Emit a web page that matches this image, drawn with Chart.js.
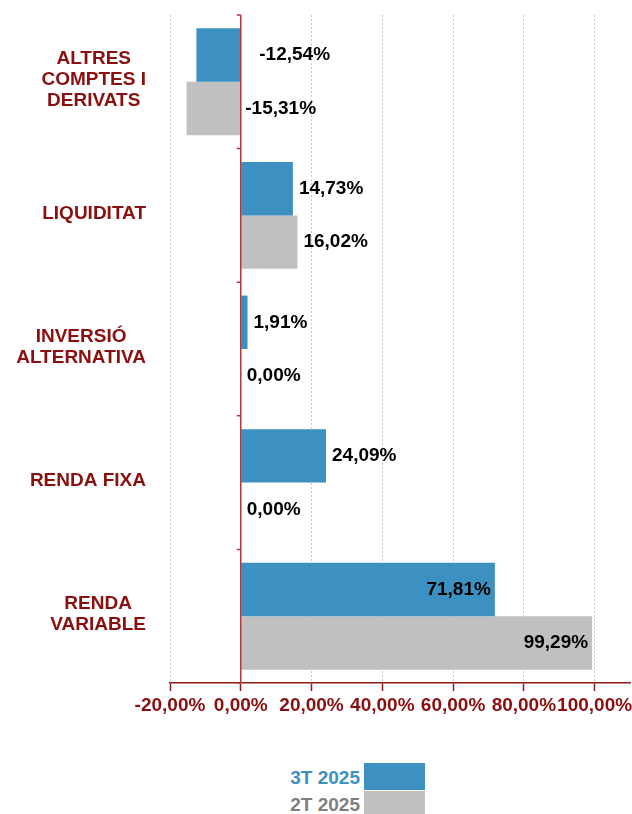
<!DOCTYPE html>
<html>
<head>
<meta charset="utf-8">
<script src="https://cdn.jsdelivr.net/npm/chart.js@4.4.1/dist/chart.umd.min.js"></script>
<style>
  body { margin: 0; background: #fff; font-family: "Liberation Sans", Arial, sans-serif; }
  #wrap { position: relative; width: 632px; height: 814px; overflow: hidden; }
  #chart { position: absolute; left: 0; top: 0; }
  .leg { position: absolute; left: 0; width: 360px; text-align: right; font-weight: bold; font-size: 19px; line-height: 22px; }
  .box { position: absolute; left: 364px; width: 61px; }
</style>
</head>
<body>
<div id="wrap">
  <canvas id="chart" width="632" height="740"></canvas>
  <div class="leg" style="top:767px; color:#3d91c2;">3T 2025</div>
  <div class="box" style="top:763px; height:27px; background:#3d91c2;"></div>
  <div class="leg" style="top:794px; color:#7f7f7f;">2T 2025</div>
  <div class="box" style="top:791px; height:30px; background:#c0c0c0;"></div>
</div>
<script>
const categories = [
  ["ALTRES", "COMPTES I", "DERIVATS"],
  ["LIQUIDITAT"],
  ["INVERSIÓ", "ALTERNATIVA"],
  ["RENDA FIXA"],
  ["RENDA", "VARIABLE"]
];
const series3T = [-12.54, 14.73, 1.91, 24.09, 71.81];
const series2T = [-15.31, 16.02, 0.00, 0.00, 99.29];
const xTicks = [-20, 0, 20, 40, 60, 80, 100];

const BLUE = "#3d91c2";
const GREY = "#c0c0c0";
const DARKRED = "#8b0f0f";
const FONT = '"Liberation Sans", Arial, sans-serif';

function fmt(v) {
  return v.toFixed(2).replace(".", ",") + "%";
}

// zero line, category ticks, category labels and value labels
const drawExtras = {
  id: "drawExtras",
  afterDatasetsDraw(chart) {
    const ctx = chart.ctx;
    const xs = chart.scales.x;
    const ys = chart.scales.y;
    const area = chart.chartArea;
    const zx = xs.getPixelForValue(0);

    ctx.save();
    ctx.strokeStyle = "#b3383a";
    ctx.lineWidth = 1.5;
    ctx.beginPath();
    ctx.moveTo(zx, area.top);
    ctx.lineTo(zx, area.bottom);
    for (let i = 0; i <= categories.length; i++) {
      const y = ys.getPixelForValue(i - 0.5);
      ctx.moveTo(zx - 4, y);
      ctx.lineTo(zx, y);
    }
    ctx.stroke();

    // category labels: lines centred inside a right-aligned block
    ctx.font = "bold 19px " + FONT;
    ctx.fillStyle = DARKRED;
    ctx.textAlign = "center";
    ctx.textBaseline = "middle";
    const lh = 21;
    categories.forEach((lines, i) => {
      const cy = ys.getPixelForValue(i);
      const widest = Math.max(...lines.map(l => ctx.measureText(l).width));
      const cx = 146 - widest / 2;
      const top = cy - (lines.length - 1) * lh / 2 - 2;
      lines.forEach((l, j) => ctx.fillText(l, cx, top + j * lh));
    });

    // value labels
    ctx.fillStyle = "#000";
    chart.data.datasets.forEach((ds, di) => {
      const meta = chart.getDatasetMeta(di);
      meta.data.forEach((bar, i) => {
        const v = ds.data[i];
        const txt = fmt(v);
        if (v > 50) {
          ctx.textAlign = "right";
          ctx.fillText(txt, bar.x - 4, bar.y);
        } else if (v < 0) {
          ctx.textAlign = "left";
          ctx.fillText(txt, bar.base + (di === 0 ? 19 : 5), bar.y);
        } else {
          ctx.textAlign = "left";
          ctx.fillText(txt, Math.max(bar.x, bar.base) + 6, bar.y);
        }
      });
    });
    ctx.restore();
  }
};

const ctx = document.getElementById("chart").getContext("2d");
const chart = new Chart(ctx, {
  type: "bar",
  data: {
    labels: categories,
    datasets: [
      { label: "3T 2025", data: series3T, backgroundColor: BLUE, borderWidth: 0 },
      { label: "2T 2025", data: series2T, backgroundColor: GREY, borderWidth: 0 }
    ]
  },
  options: {
    indexAxis: "y",
    responsive: false,
    animation: false,
    datasets: { bar: { categoryPercentage: 0.8, barPercentage: 1.0 } },
    layout: { padding: { top: 15, right: 2, left: 0, bottom: 0 } },
    plugins: {
      legend: { display: false },
      tooltip: { enabled: false }
    },
    scales: {
      x: {
        min: -20,
        max: 110,
        afterBuildTicks: (scale) => { scale.ticks = xTicks.map(v => ({ value: v })); },
        afterFit: (scale) => {
          scale.height = 57;
          scale.paddingLeft = 0;
          scale.paddingRight = 0;
        },
        grid: {
          color: (c) => (c.tick && c.tick.value === 0 ? "rgba(0,0,0,0)" : "#c8c8c8"),
          lineWidth: 1,
          drawTicks: true,
          tickLength: 8,
          tickColor: "#8b1a1a",
          tickWidth: 1.5
        },
        border: { display: true, color: "#8b1a1a", width: 1.5, dash: [2, 2] },
        ticks: {
          padding: 3,
          color: DARKRED,
          font: { family: FONT, size: 19, weight: "bold" },
          maxRotation: 0,
          autoSkip: false,
          callback: (v) => fmt(v)
        }
      },
      y: {
        afterFit: (scale) => { scale.width = 170; },
        grid: { display: false },
        border: { display: false },
        ticks: { display: false }
      }
    }
  },
  plugins: [drawExtras]
});
</script>
</body>
</html>
